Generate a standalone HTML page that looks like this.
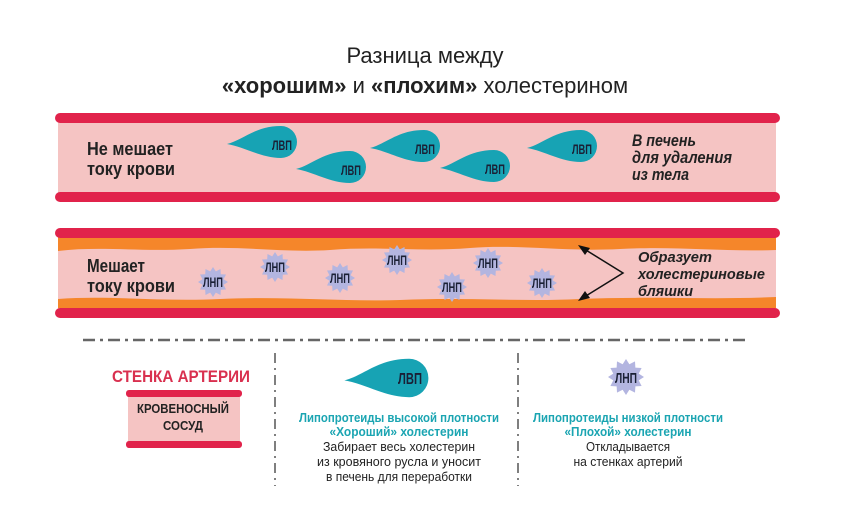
<!DOCTYPE html>
<html><head><meta charset="utf-8"><style>
html,body{margin:0;padding:0;background:#fff;}
svg{display:block;}
.c{font-family:"Liberation Sans","DejaVu Sans",sans-serif;}
</style></head><body>
<svg width="841" height="516" viewBox="0 0 841 516" xmlns="http://www.w3.org/2000/svg">
<defs>
<path id="drop" d="M-58,2 C-42,-2 -30,-16 -4,-16 A16 16 0 1 1 -4,16 C-24,16 -40,5 -58,2 Z" fill="#17a3b4"/>
<polygon id="star" fill="#b3b5e0" points="15,0 10.6,2.8 13,7.5 7.8,7.8 7.5,13 2.8,10.6 0,15 -2.8,10.6 -7.5,13 -7.8,7.8 -13,7.5 -10.6,2.8 -15,0 -10.6,-2.8 -13,-7.5 -7.8,-7.8 -7.5,-13 -2.8,-10.6 0,-15 2.8,-10.6 7.5,-13 7.8,-7.8 13,-7.5 10.6,-2.8"/>
</defs>

<text x="425" y="63" text-anchor="middle" font-family="Liberation Sans, sans-serif" font-size="22" fill="#222">Разница между</text>
<text x="425" y="93" text-anchor="middle" font-family="Liberation Sans, sans-serif" font-size="22" fill="#222"><tspan font-weight="bold">«хорошим»</tspan> и <tspan font-weight="bold">«плохим»</tspan> холестерином</text>

<!-- Top vessel -->
<rect x="58" y="120" width="718" height="74" fill="#f5c4c3"/>
<rect x="55" y="113" width="725" height="10" rx="5" fill="#e1234b"/>
<rect x="55" y="192" width="725" height="10" rx="5" fill="#e1234b"/>
<g class="c" font-weight="bold" fill="#222">
<text x="87" y="155" font-size="18" textLength="86" lengthAdjust="spacingAndGlyphs">Не мешает</text>
<text x="87" y="175" font-size="18" textLength="88" lengthAdjust="spacingAndGlyphs">току крови</text>
</g>

<g class="c" font-size="14" font-weight="bold" fill="#1a2035" text-anchor="middle">
<use href="#drop" x="285" y="142"/><text x="282" y="150" textLength="20" lengthAdjust="spacingAndGlyphs">ЛВП</text>
<use href="#drop" x="354" y="167"/><text x="351" y="175" textLength="20" lengthAdjust="spacingAndGlyphs">ЛВП</text>
<use href="#drop" x="428" y="146"/><text x="425" y="154" textLength="20" lengthAdjust="spacingAndGlyphs">ЛВП</text>
<use href="#drop" x="498" y="166"/><text x="495" y="174" textLength="20" lengthAdjust="spacingAndGlyphs">ЛВП</text>
<use href="#drop" x="585" y="146"/><text x="582" y="154" textLength="20" lengthAdjust="spacingAndGlyphs">ЛВП</text>
</g>

<g class="c" font-size="17" font-style="italic" font-weight="bold" fill="#222">
<text x="632" y="146" textLength="64" lengthAdjust="spacingAndGlyphs">В печень</text>
<text x="632" y="163" textLength="100" lengthAdjust="spacingAndGlyphs">для удаления</text>
<text x="632" y="180" textLength="57" lengthAdjust="spacingAndGlyphs">из тела</text>
</g>

<!-- Bottom vessel -->
<rect x="58" y="236" width="718" height="74" fill="#f5c4c3"/>
<path d="M58,236 L776,236 L776,250 C720,252 680,246 620,249 C560,252 520,244 470,248 C420,252 380,246 330,250 C280,253 240,245 190,249 C140,252 100,246 58,251 Z" fill="#f5862a"/>
<path d="M58,299 C110,295 160,302 220,299 C290,296 340,302 400,300 C470,297 520,302 580,299 C650,296 710,300 776,297 L776,308 L58,308 Z" fill="#f5862a"/>
<rect x="55" y="228" width="725" height="10" rx="5" fill="#e1234b"/>
<rect x="55" y="308" width="725" height="10" rx="5" fill="#e1234b"/>
<g class="c" font-weight="bold" fill="#222">
<text x="87" y="272" font-size="18" textLength="58" lengthAdjust="spacingAndGlyphs">Мешает</text>
<text x="87" y="292" font-size="18" textLength="88" lengthAdjust="spacingAndGlyphs">току крови</text>
</g>

<g class="c" font-size="14" font-weight="bold" fill="#1a2035" text-anchor="middle">
<use href="#star" x="213" y="282"/><text x="213" y="287" textLength="20" lengthAdjust="spacingAndGlyphs">ЛНП</text>
<use href="#star" x="275" y="267"/><text x="275" y="272" textLength="20" lengthAdjust="spacingAndGlyphs">ЛНП</text>
<use href="#star" x="340" y="278"/><text x="340" y="283" textLength="20" lengthAdjust="spacingAndGlyphs">ЛНП</text>
<use href="#star" x="397" y="260"/><text x="397" y="265" textLength="20" lengthAdjust="spacingAndGlyphs">ЛНП</text>
<use href="#star" x="452" y="287"/><text x="452" y="292" textLength="20" lengthAdjust="spacingAndGlyphs">ЛНП</text>
<use href="#star" x="488" y="263"/><text x="488" y="268" textLength="20" lengthAdjust="spacingAndGlyphs">ЛНП</text>
<use href="#star" x="542" y="283"/><text x="542" y="288" textLength="20" lengthAdjust="spacingAndGlyphs">ЛНП</text>
</g>

<polyline points="581,247 623,273 581,299" fill="none" stroke="#111" stroke-width="1.5"/>
<polygon points="578,245 590,248 585,255" fill="#111"/>
<polygon points="578,301 585,291 590,298" fill="#111"/>
<g class="c" font-size="15" font-style="italic" font-weight="bold" fill="#222">
<text x="638" y="262" textLength="74" lengthAdjust="spacingAndGlyphs">Образует</text>
<text x="638" y="279" textLength="127" lengthAdjust="spacingAndGlyphs">холестериновые</text>
<text x="638" y="296" textLength="55" lengthAdjust="spacingAndGlyphs">бляшки</text>
</g>

<!-- Separators -->
<line x1="83" y1="340" x2="745" y2="340" stroke="#666" stroke-width="2.5" stroke-dasharray="12,5,3,5"/>
<line x1="275" y1="353" x2="275" y2="486" stroke="#555" stroke-width="1.5" stroke-dasharray="10,5,2,5"/>
<line x1="518" y1="353" x2="518" y2="486" stroke="#555" stroke-width="1.5" stroke-dasharray="10,5,2,5"/>

<!-- Legend left -->
<text class="c" x="181" y="382" text-anchor="middle" font-size="17" font-weight="bold" fill="#d9304f" textLength="138" lengthAdjust="spacingAndGlyphs">СТЕНКА АРТЕРИИ</text>
<rect x="128" y="395" width="112" height="48" fill="#f5c4c3"/>
<rect x="126" y="390" width="116" height="7" rx="3" fill="#e1234b"/>
<rect x="126" y="441" width="116" height="7" rx="3" fill="#e1234b"/>
<text class="c" x="183" y="413" text-anchor="middle" font-size="13" font-weight="bold" fill="#222" textLength="92" lengthAdjust="spacingAndGlyphs">КРОВЕНОСНЫЙ</text>
<text class="c" x="183" y="430" text-anchor="middle" font-size="13" font-weight="bold" fill="#222" textLength="40" lengthAdjust="spacingAndGlyphs">СОСУД</text>

<!-- Legend middle -->
<use href="#drop" transform="translate(414,378) scale(1.2)"/>
<text class="c" x="410" y="384" text-anchor="middle" font-size="16" font-weight="bold" fill="#1a2035" textLength="24" lengthAdjust="spacingAndGlyphs">ЛВП</text>
<g class="c" text-anchor="middle" font-size="13">
<text x="399" y="422" font-weight="bold" fill="#1ba5b2" textLength="200" lengthAdjust="spacingAndGlyphs">Липопротеиды высокой плотности</text>
<text x="399" y="436" font-weight="bold" fill="#1ba5b2" textLength="139" lengthAdjust="spacingAndGlyphs">«Хороший» холестерин</text>
<text x="399" y="451" fill="#222" textLength="152" lengthAdjust="spacingAndGlyphs">Забирает весь холестерин</text>
<text x="399" y="466" fill="#222" textLength="164" lengthAdjust="spacingAndGlyphs">из кровяного русла и уносит</text>
<text x="399" y="481" fill="#222" textLength="146" lengthAdjust="spacingAndGlyphs">в печень для переработки</text>
</g>

<!-- Legend right -->
<use href="#star" transform="translate(626,377) scale(1.2)"/>
<text class="c" x="626" y="383" text-anchor="middle" font-size="15" font-weight="bold" fill="#1a2035" textLength="22" lengthAdjust="spacingAndGlyphs">ЛНП</text>
<g class="c" text-anchor="middle" font-size="13">
<text x="628" y="422" font-weight="bold" fill="#1ba5b2" textLength="190" lengthAdjust="spacingAndGlyphs">Липопротеиды низкой плотности</text>
<text x="628" y="436" font-weight="bold" fill="#1ba5b2" textLength="127" lengthAdjust="spacingAndGlyphs">«Плохой» холестерин</text>
<text x="628" y="451" fill="#222" textLength="84" lengthAdjust="spacingAndGlyphs">Откладывается</text>
<text x="628" y="466" fill="#222" textLength="109" lengthAdjust="spacingAndGlyphs">на стенках артерий</text>
</g>
</svg>
</body></html>
